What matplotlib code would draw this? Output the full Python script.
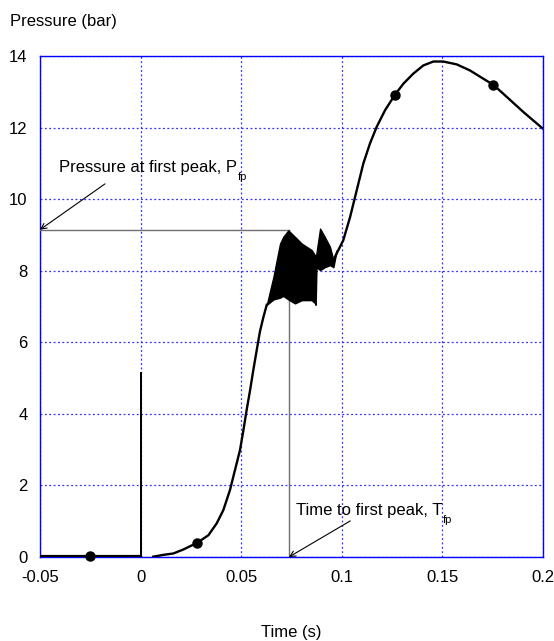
import matplotlib
matplotlib.use("Agg")
import matplotlib.pyplot as plt

plt.rcParams['font.family'] = ['Liberation Sans', 'DejaVu Sans']

# ---- data ----
t_pre = [-0.05, 0.0]
p_pre = [0.03, 0.03]
t_spike = [0.0, 0.0, 0.0]
p_spike = [0.03, 5.15, 0.0]
t_rise = [0.0063, 0.0113, 0.0163, 0.0212, 0.0282, 0.0337, 0.0378, 0.0411, 0.0444,
          0.0469, 0.0494, 0.0511, 0.0527, 0.0544, 0.056, 0.0577, 0.0593, 0.061,
          0.0627]
p_rise = [0.01, 0.06, 0.10, 0.21, 0.40, 0.61, 0.94, 1.31, 1.87,
          2.43, 2.99, 3.55, 4.11, 4.66, 5.22, 5.78, 6.30, 6.70,
          7.05]
t_band = [0.0627, 0.066, 0.0693, 0.0709, 0.0734, 0.0767, 0.0801, 0.085, 0.0866,
          0.0870, 0.0874, 0.0892, 0.0915, 0.0941, 0.0958, 0.0975]
p_upper = [7.05, 7.83, 8.76, 8.95, 9.13, 8.95, 8.76, 8.58, 8.44,
           8.30, 8.50, 9.18, 8.95, 8.67, 8.30, 8.58]
p_lower = [7.05, 7.20, 7.25, 7.30, 7.20, 7.09, 7.18, 7.18, 7.10,
           7.05, 8.10, 8.02, 8.10, 8.16, 8.10, 8.58]
t_post = [0.0958, 0.1007, 0.1041, 0.1074, 0.1107, 0.114, 0.1173, 0.1215, 0.1264,
          0.1306, 0.1355, 0.1405, 0.1455, 0.1504, 0.1571, 0.1637, 0.1703, 0.1753,
          0.182, 0.1902, 0.2]
p_post = [8.30, 8.85, 9.50, 10.25, 11.0, 11.56, 12.02, 12.49, 12.92,
          13.23, 13.51, 13.74, 13.85, 13.85, 13.77, 13.60, 13.37, 13.20,
          12.86, 12.44, 11.97]
t_marks = [-0.025, 0.0282, 0.1264, 0.1753]
p_marks = [0.03, 0.40, 12.92, 13.20]

t_fp = 0.0737
p_fp = 9.15

x_ticks = [-0.05, 0, 0.05, 0.1, 0.15, 0.2]
x_labels = ['-0.05', '0', '0.05', '0.1', '0.15', '0.2']
y_ticks = [0, 2, 4, 6, 8, 10, 12, 14]

# ---- figure ----
fig = plt.figure(figsize=(5.54, 6.41), dpi=100)
ax = fig.add_axes([0.0722, 0.131, 0.908, 0.7814])
ax.set_xlim(-0.05, 0.2)
ax.set_ylim(0, 14)

ax.set_xticks(x_ticks)
ax.set_xticklabels(x_labels)
ax.set_yticks(y_ticks)
ax.tick_params(length=0, labelsize=12)
ax.tick_params(axis='x', pad=9)
ax.tick_params(axis='y', pad=9)
for s in ax.spines.values():
    s.set_color('#0000ff')
    s.set_linewidth(1.0)
ax.grid(True, color='#3030ff', linestyle=(0, (1.5, 2)), linewidth=0.9)
ax.set_axisbelow(True)

# guide lines
ax.plot([-0.05, t_fp], [p_fp, p_fp], color='#707070', lw=1.0, zorder=3)
ax.plot([t_fp, t_fp], [p_fp, 0], color='#707070', lw=1.0, zorder=3)

# curve
lc = 'black'
ax.plot(t_pre, p_pre, color=lc, lw=1.6, zorder=4)
ax.plot(t_spike, p_spike, color=lc, lw=1.4, zorder=4)
ax.plot(t_rise, p_rise, color=lc, lw=1.7, zorder=4, solid_joinstyle='round')
ax.fill_between(t_band, p_lower, p_upper, color=lc, lw=1.0, edgecolor=lc, zorder=4)
ax.plot(t_post, p_post, color=lc, lw=1.7, zorder=4, solid_joinstyle='round')
ax.plot(t_marks, p_marks, 'o', color=lc, ms=6.5, zorder=5, clip_on=False)

# annotations
ax.annotate('', xy=(-0.05, p_fp), xytext=(-0.0177, 10.43),
            arrowprops=dict(arrowstyle='->', color='black', lw=0.8,
                            shrinkA=0, shrinkB=0), zorder=6)
t1 = ax.text(-0.0404, 10.88, 'Pressure at first peak, P',
             fontsize=12, ha='left', va='center', zorder=6)
ax.annotate('fp', xy=(1.0, 0.0), xycoords=t1, xytext=(0.5, 2.0),
            textcoords='offset points', fontsize=8, ha='left', va='top', zorder=6)

ax.annotate('', xy=(t_fp, 0), xytext=(0.1042, 1.01),
            arrowprops=dict(arrowstyle='->', color='black', lw=0.8,
                            shrinkA=0, shrinkB=0), zorder=6)
t2 = ax.text(0.0773, 1.31, 'Time to first peak, T',
             fontsize=12, ha='left', va='center', zorder=6)
ax.annotate('fp', xy=(1.0, 0.0), xycoords=t2, xytext=(0.5, 2.0),
            textcoords='offset points', fontsize=8, ha='left', va='top', zorder=6)

fig.text(0.018, 0.9657, 'Pressure (bar)', fontsize=12, ha='left', va='center')
fig.text(0.526, 0.014, 'Time (s)', fontsize=12, ha='center', va='center')

fig.savefig('out.png', dpi=100)
